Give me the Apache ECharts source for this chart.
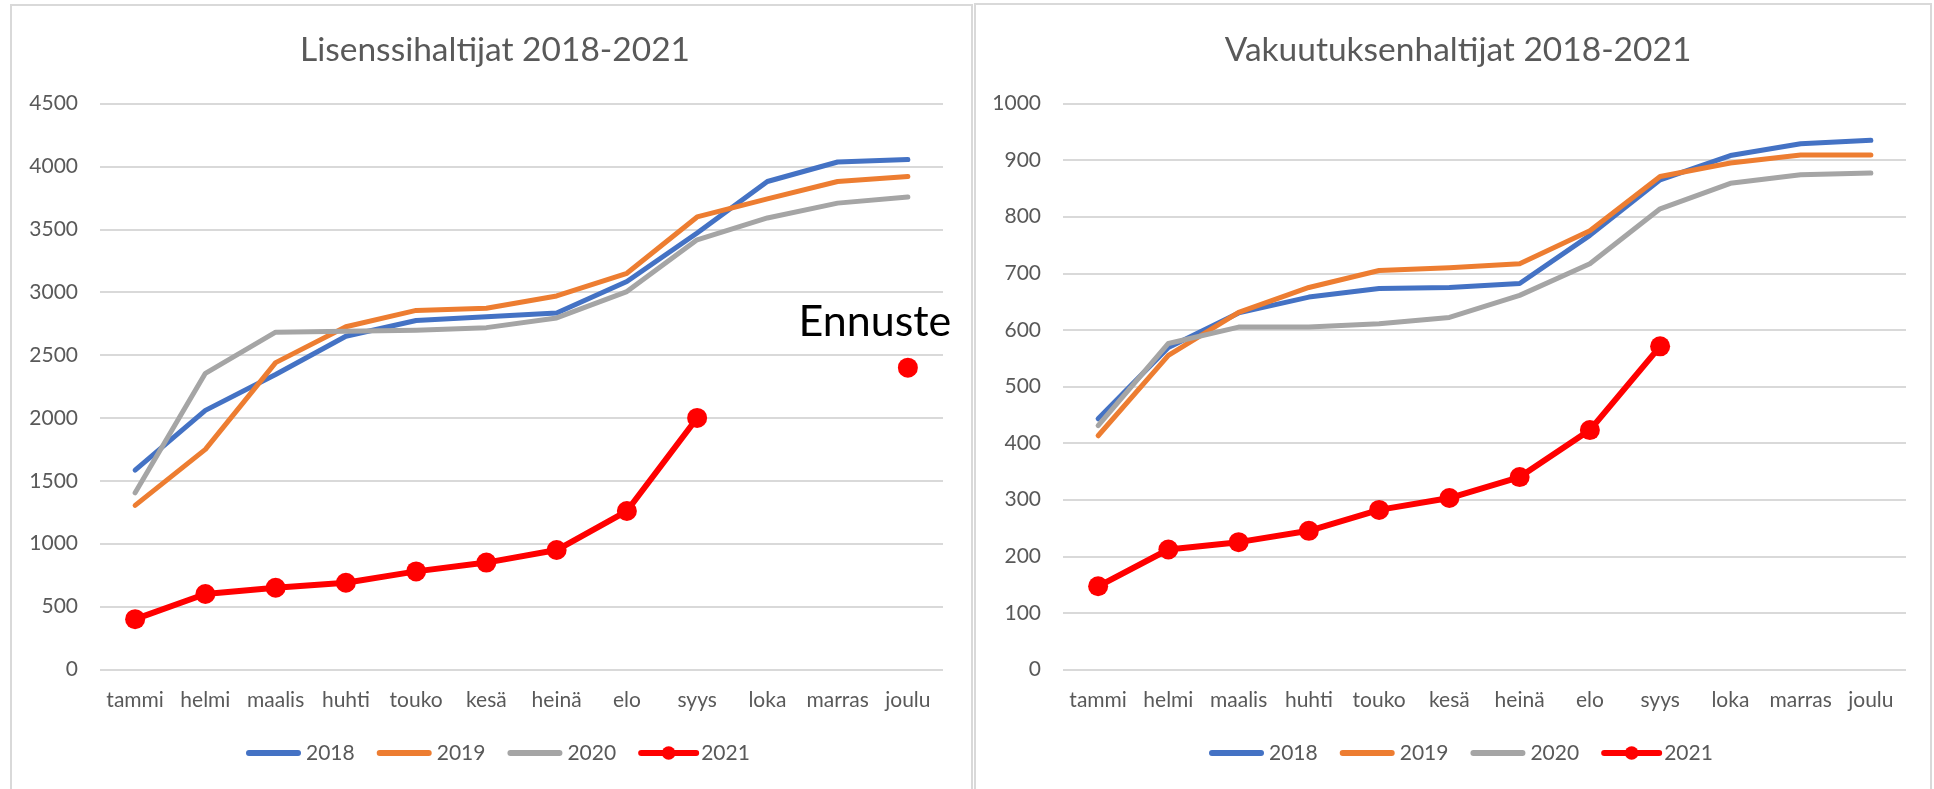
<!DOCTYPE html>
<html>
<head>
<meta charset="utf-8">
<script src="https://cdn.jsdelivr.net/npm/echarts@6/dist/echarts.min.js"></script>
<style>
html,body{margin:0;padding:0;background:#fff;}
#chart{width:1934px;height:789px;}
</style>
</head>
<body>
<div id="chart"></div>
<script>
// ---- data ----
const months = ['tammi','helmi','maalis','huhti','touko','kesä','heinä','elo','syys','loka','marras','joulu'];
const seriesNames = ['2018','2019','2020','2021'];

const titleLeft = 'Lisenssihaltijat 2018-2021';
const titleRight = 'Vakuutuksenhaltijat 2018-2021';
const forecastLabel = 'Ennuste';

// Lisenssihaltijat
const lic2018 = [1585, 2060, 2345, 2650, 2775, 2805, 2835, 3085, 3470, 3880, 4035, 4055];
const lic2019 = [1305, 1750, 2440, 2725, 2855, 2872, 2970, 3150, 3598, 3742, 3880, 3920];
const lic2020 = [1405, 2355, 2682, 2690, 2698, 2718, 2795, 3005, 3416, 3590, 3708, 3756];
const lic2021 = [400, 600, 650, 690, 780, 850, 950, 1260, 2000, null, null, 2400];

// Vakuutuksenhaltijat
const ins2018 = [443, 569, 630, 658, 673, 675, 682, 767, 865, 908, 929, 935];
const ins2019 = [413, 555, 631, 675, 705, 710, 717, 775, 871, 895, 909, 909];
const ins2020 = [431, 576, 605, 605, 611, 622, 661, 717, 814, 859, 874, 877];
const ins2021 = [147, 212, 225, 245, 282, 303, 340, 423, 571, null, null, null];

const licTicks = {min: 0, max: 4500, interval: 500};
const insTicks = {min: 0, max: 1000, interval: 100};

// ---- styles ----
const FONT = 'Lato';
const TXT = '#595959';
const GRIDC = '#d9d9d9';
const colors = {'2018': '#4472C4', '2019': '#ED7D31', '2020': '#A5A5A5', '2021': '#FF0000'};
const barIcon = 'path://M3,0 L53,0 A3,3 0 0 1 53,6 L3,6 A3,3 0 0 1 3,0 Z';

function lineSeries(name, data, idx) {
  const is21 = name === '2021';
  return {
    name: name,
    type: 'line',
    xAxisIndex: idx,
    yAxisIndex: idx,
    data: data,
    connectNulls: false,
    showSymbol: is21,
    symbol: is21 ? 'circle' : 'none',
    symbolSize: 20,
    animation: false,
    lineStyle: {color: colors[name], width: is21 ? 6 : 5, cap: 'round', join: 'round'},
    itemStyle: {color: colors[name]},
    emphasis: {disabled: true},
    z: is21 ? 5 : 3
  };
}

const lic21Data = lic2021.map(function (v, i) {
  if (i === lic2021.length - 1 && v != null) {
    return {
      value: v,
      label: {
        show: true,
        formatter: forecastLabel,
        position: 'inside',
        offset: [-33, -46],
        fontFamily: FONT,
        fontSize: 43,
        color: '#000'
      }
    };
  }
  return v;
});

function xAxis(idx) {
  return {
    type: 'category',
    gridIndex: idx,
    data: months,
    boundaryGap: true,
    axisLine: {show: false},
    axisTick: {show: false},
    axisLabel: {interval: 0, color: TXT, fontFamily: FONT, fontSize: 21, margin: 20}
  };
}
function yAxis(idx, t) {
  return {
    type: 'value',
    gridIndex: idx,
    min: t.min, max: t.max, interval: t.interval,
    axisLine: {show: false},
    axisTick: {show: false},
    axisLabel: {color: TXT, fontFamily: FONT, fontSize: 21, margin: 22,
                formatter: function (v) { return String(v); }},
    splitLine: {lineStyle: {color: GRIDC, width: 2}}
  };
}
function legend(left) {
  return {
    left: left,
    top: 742.5,
    padding: 0,
    data: seriesNames.map(function (n) {
      return n === '2021' ? {name: n} : {name: n, icon: barIcon};
    }),
    itemWidth: 55,
    itemHeight: 17,
    itemGap: 22,
    selectedMode: false,
    textStyle: {color: TXT, fontFamily: FONT, fontSize: 21},
    lineStyle: {width: 6, cap: 'round'}
  };
}

const option = {
  backgroundColor: '#fff',
  animation: false,
  title: [
    {text: titleLeft, left: 490, top: 28, textAlign: 'center',
     textStyle: {color: TXT, fontFamily: FONT, fontSize: 33.5, fontWeight: 'normal'}},
    {text: titleRight, left: 1453, top: 28, textAlign: 'center',
     textStyle: {color: TXT, fontFamily: FONT, fontSize: 33.5, fontWeight: 'normal'}}
  ],
  legend: [legend(246), legend(1209)],
  grid: [
    {left: 100, width: 843, top: 103.5, bottom: 119.5, containLabel: false},
    {left: 1063, width: 843, top: 103.5, bottom: 119.5, containLabel: false}
  ],
  xAxis: [xAxis(0), xAxis(1)],
  yAxis: [yAxis(0, licTicks), yAxis(1, insTicks)],
  graphic: [
    {type: 'rect', shape: {x: 11, y: 5, width: 961, height: 800}, style: {fill: 'none', stroke: GRIDC, lineWidth: 2}, silent: true, z: -1},
    {type: 'rect', shape: {x: 975, y: 4, width: 956, height: 800}, style: {fill: 'none', stroke: GRIDC, lineWidth: 2}, silent: true, z: -1}
  ],
  series: [
    lineSeries('2018', lic2018, 0),
    lineSeries('2019', lic2019, 0),
    lineSeries('2020', lic2020, 0),
    lineSeries('2021', lic21Data, 0),
    lineSeries('2018', ins2018, 1),
    lineSeries('2019', ins2019, 1),
    lineSeries('2020', ins2020, 1),
    lineSeries('2021', ins2021, 1)
  ]
};

const chart = echarts.init(document.getElementById('chart'), null, {renderer: 'canvas'});
chart.setOption(option);
</script>
</body>
</html>
